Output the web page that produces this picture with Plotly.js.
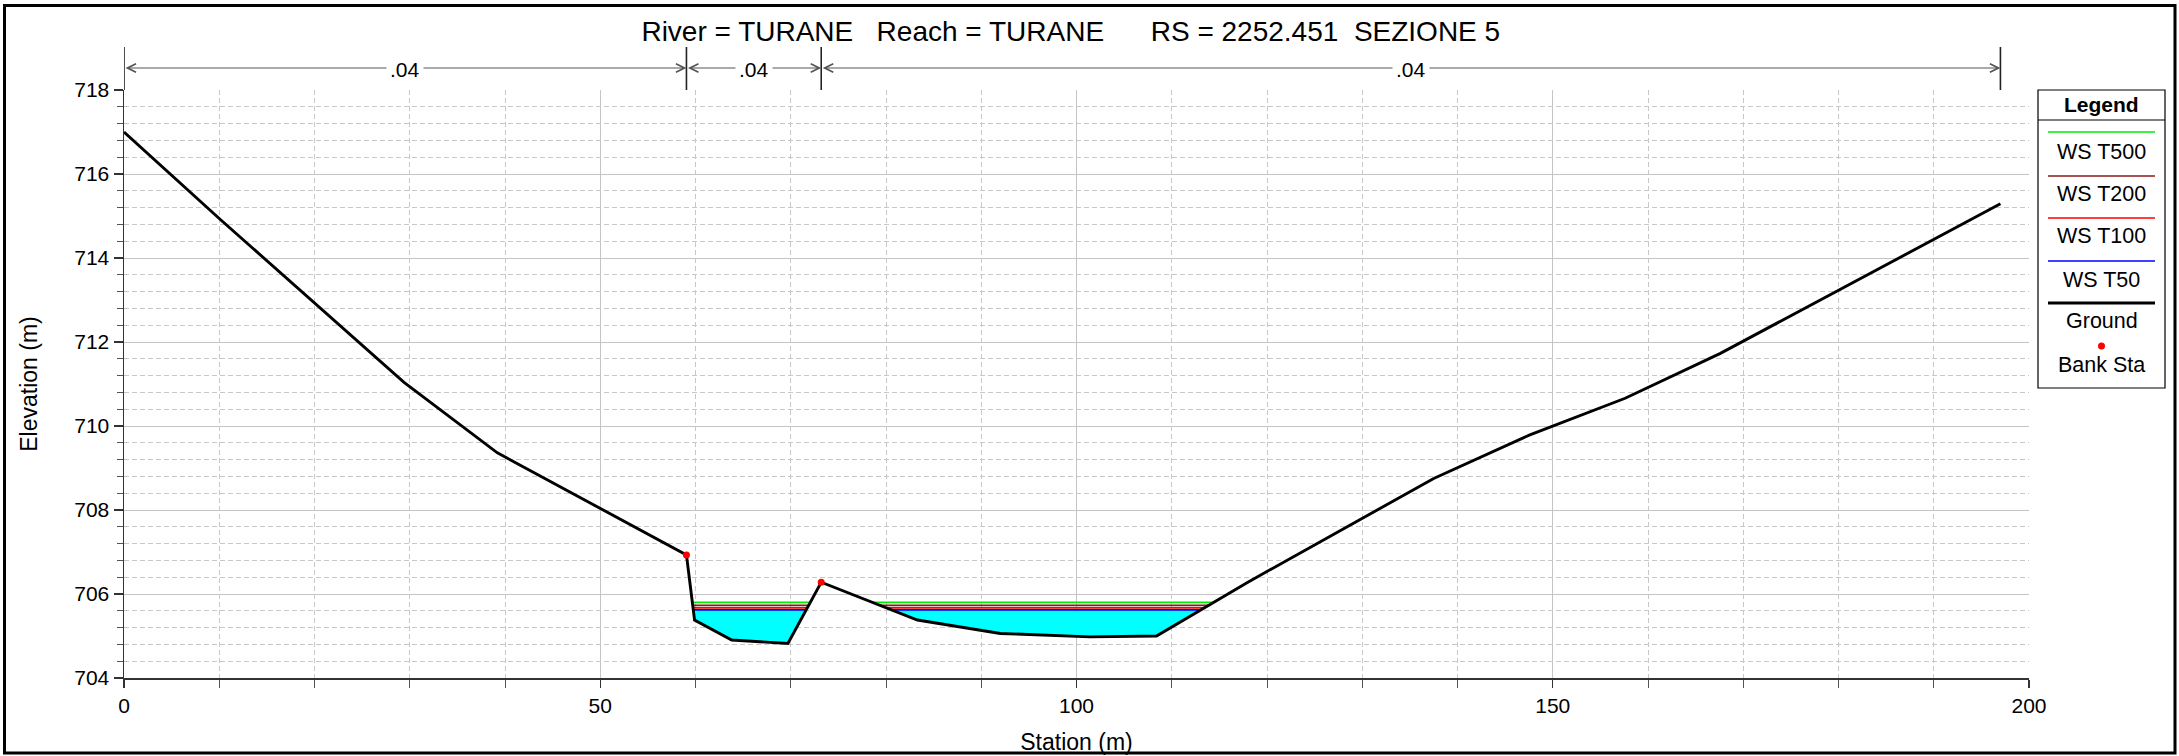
<!DOCTYPE html>
<html>
<head>
<meta charset="utf-8">
<script src="https://cdn.plot.ly/plotly-3.0.1.min.js"></script>
<style>
  html, body { margin: 0; padding: 0; background: #ffffff; }
  #chart { width: 2179px; height: 756px; }
</style>
</head>
<body>
<div id="chart"></div>
<script>
// ---------------- data ----------------
const groundSta  = [0, 10.2, 29.4, 39.2, 59.05, 59.9, 63.8, 69.7, 73.2, 83.3, 92.0, 101.4, 108.4, 117.9, 137.5, 147.6, 157.6, 167.6, 197.0];
const groundElev = [717.0, 714.9, 711.04, 709.36, 706.93, 705.38, 704.905, 704.82, 706.28, 705.38, 705.06, 704.98, 705.0, 706.27, 708.75, 709.79, 710.66, 711.73, 715.29];

const bankSta  = [59.05, 73.2];
const bankElev = [706.93, 706.28];

const wsNames  = ['WS T500', 'WS T200', 'WS T100', 'WS T50'];
const wsElev   = [705.80, 705.73, 705.67, 705.62];
const wsColors = ['#00ee00', '#8b1a1a', '#ff0000', '#0000ff'];

// Manning's n regions (stations of the breaks) and labels
const nBreaks = [0, 59.05, 73.2, 197.0];
const nLabels = ['.04', '.04', '.04'];

const titleText = 'River = TURANE\u00a0\u00a0\u00a0Reach = TURANE\u00a0\u00a0\u00a0\u00a0\u00a0\u00a0RS = 2252.451\u00a0\u00a0SEZIONE 5';

// ---------------- helpers ----------------
const W = 2179, H = 756;
const M = {l: 124, r: 150, t: 90, b: 78};
const PW = W - M.l - M.r, PH = H - M.t - M.b;
const px2x = px => (px - M.l) / PW;   // pixel -> paper x
const py2y = py => (H - M.b - py) / PH; // pixel -> paper y
const FONT = 'Liberation Sans, Arial, sans-serif';

function wetParts(sta, elev, ws) {
  const parts = [];
  let cur = null;
  for (let i = 0; i < sta.length - 1; i++) {
    const x0 = sta[i], y0 = elev[i], x1 = sta[i + 1], y1 = elev[i + 1];
    const b0 = y0 < ws, b1 = y1 < ws;
    if (b0 && cur === null) cur = {x: [x0], y: [y0]};
    if (!b0 && b1) {
      const xc = x0 + (x1 - x0) * (ws - y0) / (y1 - y0);
      cur = {x: [xc], y: [ws]};
    }
    if (b1) { cur.x.push(x1); cur.y.push(y1); }
    if (b0 && !b1) {
      const xc = x0 + (x1 - x0) * (ws - y0) / (y1 - y0);
      cur.x.push(xc); cur.y.push(ws);
      parts.push(cur); cur = null;
    }
  }
  return parts;
}

const traces = [];

// cyan fill under the lowest profile
const lowIdx = wsElev.indexOf(Math.min(...wsElev));
wetParts(groundSta, groundElev, wsElev[lowIdx]).forEach(p => {
  traces.push({x: p.x, y: p.y, mode: 'lines', fill: 'toself', fillcolor: '#00ffff',
    line: {width: 0, color: '#00ffff'}, hoverinfo: 'skip', showlegend: false});
});

// water surface lines
for (let k = wsElev.length - 1; k >= 0; k--) {
  const xs = [], ys = [];
  wetParts(groundSta, groundElev, wsElev[k]).forEach(p => {
    xs.push(p.x[0], p.x[p.x.length - 1], null);
    ys.push(wsElev[k], wsElev[k], null);
  });
  traces.push({x: xs, y: ys, mode: 'lines', name: wsNames[k],
    line: {color: wsColors[k], width: 1.7}, showlegend: false});
}

// ground
traces.push({x: groundSta, y: groundElev, mode: 'lines', name: 'Ground',
  line: {color: '#000000', width: 2.9}, showlegend: false});

// bank stations
traces.push({x: bankSta, y: bankElev, mode: 'markers', name: 'Bank Sta',
  marker: {color: '#ff0000', size: 7}, showlegend: false});

// ---------------- n-value strip above plot ----------------
const shapes = [];
const annotations = [];
const nLineY = py2y(68);
const nBarTop = py2y(47);
nBreaks.forEach(b => {
  shapes.push({type: 'line', xref: 'x', yref: 'paper', x0: b, x1: b, y0: 1, y1: nBarTop,
    line: {color: '#222222', width: 1.6}});
});
for (let i = 0; i < nBreaks.length - 1; i++) {
  annotations.push({xref: 'x', yref: 'paper', x: nBreaks[i + 1], y: nLineY,
    axref: 'x', ayref: 'pixel', ax: nBreaks[i], ay: 0, text: '', font: {size: 1},
    showarrow: true, arrowside: 'end+start', arrowhead: 5, startarrowhead: 5,
    arrowsize: 1.7, startarrowsize: 1.7, arrowwidth: 1, arrowcolor: '#555555'});
}
for (let i = 0; i < nBreaks.length - 1; i++) {
  annotations.push({xref: 'x', yref: 'paper', x: (nBreaks[i] + nBreaks[i + 1]) / 2, y: py2y(70),
    text: nLabels[i], showarrow: false, bgcolor: '#ffffff', borderpad: 3,
    xanchor: 'center', yanchor: 'middle', font: {family: FONT, size: 21, color: '#000000'}});
}

// ---------------- custom legend ----------------
const lgL = 2038, lgR = 2165, lgT = 90, lgB = 388;
const lgCx = px2x((lgL + lgR) / 2);
shapes.push({type: 'rect', xref: 'paper', yref: 'paper', x0: px2x(lgL), x1: px2x(lgR),
  y0: py2y(lgB), y1: py2y(lgT), line: {color: '#000000', width: 1.2}, fillcolor: 'rgba(0,0,0,0)'});
shapes.push({type: 'line', xref: 'paper', yref: 'paper', x0: px2x(lgL), x1: px2x(lgR),
  y0: py2y(120), y1: py2y(120), line: {color: '#000000', width: 1.2}});
annotations.push({xref: 'paper', yref: 'paper', x: lgCx, y: py2y(104), text: '<b>Legend</b>',
  showarrow: false, xanchor: 'center', yanchor: 'middle', font: {family: FONT, size: 21, color: '#000'}});

const legLineY = [132, 176, 218, 261, 303];
const legTextY = [152, 194, 236, 280, 321];
const legItems = wsNames.map((n, i) => ({name: n, color: wsColors[i], width: 1.7}))
  .concat([{name: 'Ground', color: '#000000', width: 2.9}]);
legItems.forEach((it, i) => {
  shapes.push({type: 'line', xref: 'paper', yref: 'paper', x0: px2x(2048), x1: px2x(2155),
    y0: py2y(legLineY[i]), y1: py2y(legLineY[i]), line: {color: it.color, width: it.width}});
  annotations.push({xref: 'paper', yref: 'paper', x: lgCx, y: py2y(legTextY[i]), text: it.name,
    showarrow: false, xanchor: 'center', yanchor: 'middle', font: {family: FONT, size: 21.5, color: '#000'}});
});
shapes.push({type: 'circle', xref: 'paper', yref: 'paper', xsizemode: 'pixel', ysizemode: 'pixel',
  xanchor: lgCx, yanchor: py2y(346), x0: -3.5, x1: 3.5, y0: -3.5, y1: 3.5,
  fillcolor: '#ff0000', line: {width: 0}});
annotations.push({xref: 'paper', yref: 'paper', x: lgCx, y: py2y(365), text: 'Bank Sta',
  showarrow: false, xanchor: 'center', yanchor: 'middle', font: {family: FONT, size: 21.5, color: '#000'}});

// outer frame
shapes.push({type: 'rect', xref: 'paper', yref: 'paper', x0: px2x(4.5), x1: px2x(2175),
  y0: py2y(753), y1: py2y(5.5), line: {color: '#000000', width: 3}, fillcolor: 'rgba(0,0,0,0)'});

// ---------------- layout ----------------
const gridMajor = '#c4c4c4';
const gridMinor = '#c8c8c8';
const layout = {
  width: W, height: H,
  margin: M,
  paper_bgcolor: '#ffffff', plot_bgcolor: '#ffffff',
  showlegend: false,
  font: {family: FONT, color: '#000000'},
  title: {text: titleText, font: {family: FONT, size: 28, color: '#000000'},
    x: 0.497, xref: 'paper', xanchor: 'center', y: 1 - 31 / H, yref: 'container', yanchor: 'middle'},
  xaxis: {
    range: [0, 200], dtick: 50, tick0: 0,
    showgrid: true, gridcolor: gridMajor, gridwidth: 1,
    zeroline: false, showline: true, linecolor: '#333333', linewidth: 1.5,
    ticks: 'outside', ticklen: 8, tickcolor: '#333333', tickwidth: 1.2,
    tickfont: {family: FONT, size: 21, color: '#000000'},
    minor: {dtick: 10, tick0: 0, showgrid: true, gridcolor: gridMinor, griddash: '5px,3px', gridwidth: 1,
      ticks: 'outside', ticklen: 8, tickcolor: '#555555', tickwidth: 1},
    title: {text: 'Station (m)', font: {family: FONT, size: 23, color: '#000000'}, standoff: 18},
    automargin: false
  },
  yaxis: {
    range: [704, 718], dtick: 2, tick0: 704,
    showgrid: true, gridcolor: gridMajor, gridwidth: 1,
    zeroline: false, showline: true, linecolor: '#333333', linewidth: 1.5,
    ticks: 'outside', ticklen: 9, tickcolor: '#333333', tickwidth: 1.2,
    tickfont: {family: FONT, size: 21, color: '#000000'},
    minor: {dtick: 0.4, tick0: 704, showgrid: true, gridcolor: gridMinor, griddash: '5px,3px', gridwidth: 1,
      ticks: 'outside', ticklen: 6, tickcolor: '#555555', tickwidth: 1},
    title: {text: 'Elevation (m)', font: {family: FONT, size: 23, color: '#000000'}, standoff: 30},
    automargin: false
  },
  shapes: shapes,
  annotations: annotations
};

Plotly.newPlot('chart', traces, layout, {displayModeBar: false, staticPlot: true});
</script>
</body>
</html>
